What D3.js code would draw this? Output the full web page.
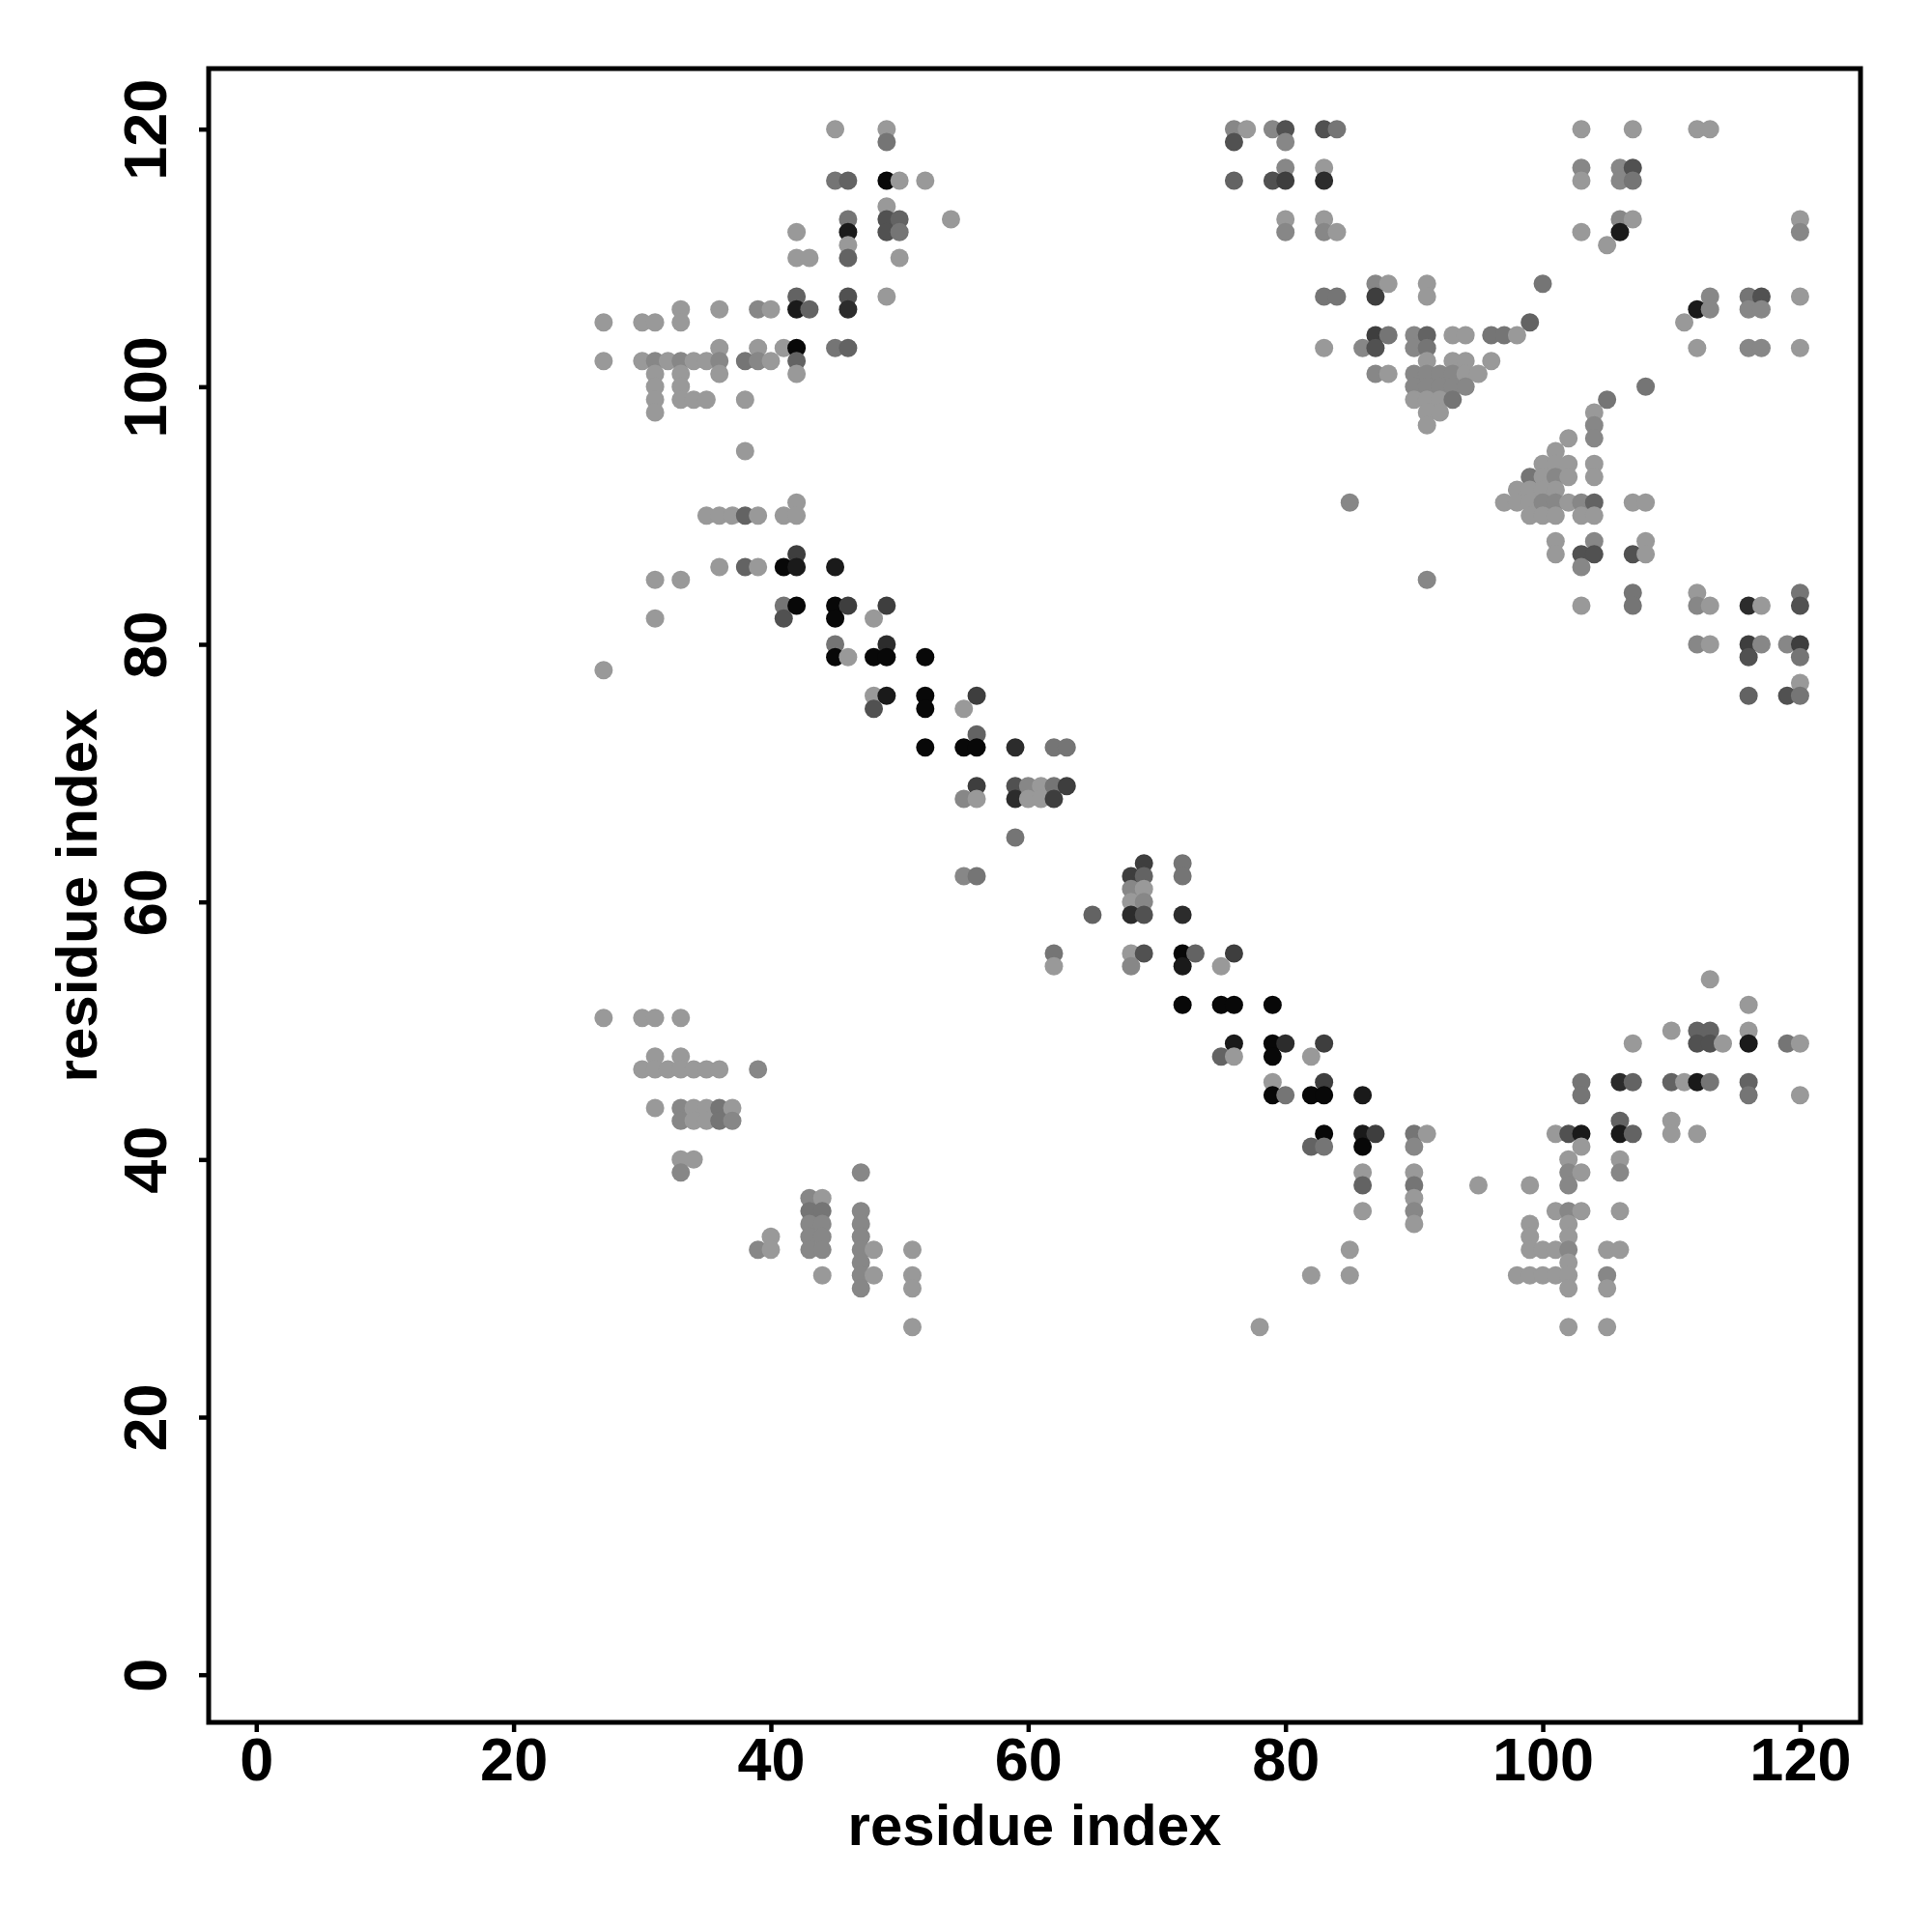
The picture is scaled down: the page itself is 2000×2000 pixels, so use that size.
<!DOCTYPE html>
<html>
<head>
<meta charset="utf-8">
<script src="https://cdn.jsdelivr.net/npm/d3@7"></script>
<style>
  body { margin: 0; background: #fff; }
  text { font-family: "Liberation Sans", Arial, Helvetica, sans-serif; font-weight: bold; }
</style>
</head>
<body>
<script>
// contacts as [residue i, residue j, shade level 1 (light) .. 9 (black)]
var blockTopLeft = [
  [45,120,1],[49,120,1],[49,119,3],
  [45,116,3],[46,116,4],[49,116,9],[50,116,1],[52,116,1],
  [49,114,1],
  [46,113,3],[49,113,5],[50,113,4],[54,113,1],
  [42,112,1],[46,112,8],[49,112,5],[50,112,3],
  [46,111,1],
  [42,110,1],[43,110,1],[46,110,4],[50,110,1],
  [42,107,4],[46,107,5],[49,107,1],
  [42,106,8],[43,106,4],[46,106,7],
  [33,106,1],[36,106,1],[39,106,2],[40,106,1],
  [27,105,1],[30,105,1],[31,105,1],[33,105,1],
  [36,103,1],[39,103,1],[41,103,1],[42,103,9],[45,103,3],[46,103,4],
  [27,102,1],[30,102,1],[31,102,2],[32,102,1],[33,102,2],[34,102,1],[35,102,1],
  [36,102,2],[38,102,3],[39,102,2],[40,102,1],[42,102,4],
  [31,101,1],[33,101,1],[36,101,1],[42,101,1],
  [31,100,1],[33,100,1],
  [31,99,1],[33,99,1],[34,99,1],[35,99,1],[38,99,1],
  [31,98,1],
  [38,95,1],
  [42,91,1],
  [35,90,1],[36,90,1],[37,90,1],[38,90,4],[39,90,1],[41,90,1],[42,90,1]
];

var blockMidLeft = [
  [42,87,6],
  [36,86,1],[38,86,4],[39,86,1],[41,86,9],[42,86,8],[45,86,8],
  [31,85,1],[33,85,1],
  [41,83,3],[42,83,9],[45,83,9],[46,83,6],[49,83,6],
  [31,82,1],[41,82,5],[45,82,9],[48,82,1],
  [45,80,3],[49,80,7],
  [45,79,9],[46,79,1],[48,79,9],[49,79,9],[52,79,9],
  [27,78,1],
  [48,76,1],[49,76,8],[52,76,9],[56,76,6],
  [48,75,5],[52,75,9],[55,75,1],
  [56,73,4],
  [52,72,9],[55,72,9],[56,72,9],
  [56,69,6],
  [55,68,2],[56,68,1],
  [55,62,2],[56,62,3]
];

var blockCentre = [
  [59,72,7],[62,72,3],[63,72,3],
  [59,69,5],[60,69,2],[61,69,1],[62,69,3],[63,69,6],
  [59,68,7],[60,68,1],[61,68,1],[62,68,6],
  [59,65,3],
  [69,63,6],[72,63,3],
  [68,62,6],[69,62,4],[72,62,3],
  [68,61,2],[69,61,1],
  [68,60,1],[69,60,2],
  [65,59,4],[68,59,7],[69,59,5],[72,59,7],
  [62,56,3],[68,56,1],[69,56,5],[72,56,9],[73,56,4],[76,56,6],
  [62,55,1],[68,55,2],[72,55,8],[75,55,1],
  [72,52,9],[75,52,9],[76,52,9],[79,52,9],
  [76,49,8],[79,49,9],[80,49,7],[83,49,6],
  [75,48,4],[76,48,1],[79,48,9],[82,48,1],
  [79,46,1],[83,46,6],
  [79,45,9],[80,45,3],[82,45,9],[83,45,9],[86,45,8],
  [83,42,9],[86,42,8],[87,42,6],
  [82,41,4],[83,41,3],[86,41,9],
  [86,39,1],[86,38,4],[86,36,1],
  [85,33,1],[82,31,1],[85,31,1],[78,27,1]
];

var blockBottomLeft = [
  [27,51,1],[30,51,1],[31,51,1],[33,51,1],
  [31,48,1],[33,48,1],
  [30,47,1],[31,47,1],[32,47,1],[33,47,1],[34,47,1],[35,47,1],[36,47,1],[39,47,2],
  [31,44,1],[33,44,2],[34,44,1],[35,44,1],[36,44,3],[37,44,1],
  [33,43,2],[34,43,1],[35,43,1],[36,43,3],[37,43,2],
  [33,40,1],[34,40,1],[33,39,2],
  [47,39,2],
  [43,37,2],[44,37,1],
  [43,36,3],[44,36,3],[47,36,2],
  [43,35,2],[44,35,2],[47,35,2],
  [40,34,1],[43,34,2],[44,34,2],[47,34,2],
  [39,33,2],[40,33,1],[43,33,2],[44,33,2],[47,33,2],[48,33,1],[51,33,1],
  [47,32,2],
  [44,31,1],[47,31,2],[48,31,1],[51,31,1],
  [47,30,2],[51,30,1],
  [51,27,1]
];

var blockBottomRight = [
  [113,54,1],
  [116,52,1],
  [110,50,1],[112,50,4],[113,50,4],[116,50,1],
  [107,49,1],[112,49,5],[113,49,5],[114,49,1],[116,49,8],[119,49,3],[120,49,1],
  [103,46,3],[106,46,7],[107,46,4],[110,46,4],[111,46,1],[112,46,8],[113,46,3],[116,46,4],
  [103,45,3],[116,45,3],[120,45,1],
  [106,43,4],[110,43,1],
  [90,42,3],[91,42,1],[101,42,1],[102,42,5],[103,42,8],[106,42,8],[107,42,4],[110,42,1],[112,42,1],
  [90,41,2],[103,41,1],
  [102,40,1],[106,40,1],
  [90,39,1],[102,39,2],[103,39,1],[106,39,2],
  [90,38,3],[95,38,1],[99,38,1],[102,38,2],
  [90,37,1],
  [90,36,2],[101,36,1],[102,36,2],[103,36,1],[106,36,1],
  [90,35,1],[99,35,1],[102,35,1],
  [99,34,1],[102,34,1],
  [99,33,1],[100,33,1],[101,33,1],[102,33,2],[105,33,1],[106,33,1],
  [102,32,1],
  [98,31,1],[99,31,1],[100,31,1],[101,31,1],[102,31,1],[105,31,2],
  [102,30,1],[105,30,1],
  [102,27,1],[105,27,1]
];

var blockTopMid = [
  [76,120,2],[77,120,1],[79,120,2],[80,120,5],[83,120,5],[84,120,3],
  [76,119,5],[80,119,2],
  [80,117,2],[83,117,1],
  [76,116,4],[79,116,5],[80,116,6],[83,116,7],
  [80,113,1],[83,113,1],
  [80,112,2],[83,112,2],[84,112,1],
  [87,108,2],[88,108,1],
  [83,107,3],[84,107,3],[87,107,6],
  [87,104,6],[88,104,3],
  [83,103,1],[86,103,2],[87,103,5],
  [87,101,2],[88,101,1],
  [85,91,2],[91,85,2]
];

var blockTopRight = [
  [103,120,1],[107,120,1],[112,120,1],[113,120,1],
  [103,117,2],[106,117,2],[107,117,5],
  [103,116,1],[106,116,2],[107,116,3],
  [106,113,2],[107,113,1],[120,113,1],
  [103,112,1],[106,112,8],[120,112,2],
  [105,111,1],
  [91,108,1],[100,108,3],
  [91,107,1],[113,107,2],[116,107,3],[117,107,5],[120,107,1],
  [112,106,8],[113,106,2],[116,106,2],[117,106,2],
  [99,105,4],[111,105,1],
  [90,104,2],[91,104,4],[93,104,1],[94,104,1],[96,104,3],[97,104,3],[98,104,1],
  [90,103,2],[91,103,3],[112,103,1],[116,103,2],[117,103,2],[120,103,1],
  [91,102,1],[93,102,1],[94,102,1],[96,102,1],
  [90,101,2],[91,101,2],[92,101,2],[93,101,2],[94,101,1],[95,101,1],
  [90,100,2],[91,100,2],[92,100,2],[93,100,2],[94,100,2],[108,100,3],
  [90,99,1],[91,99,1],[92,99,1],[93,99,3],[105,99,3],
  [91,98,1],[92,98,1],[104,98,1],
  [91,97,1],[104,97,2],
  [102,96,1],[104,96,2],
  [101,95,1],
  [100,94,1],[101,94,1],[102,94,1],[104,94,1],
  [99,93,3],[100,93,1],[101,93,2],[102,93,1],[104,93,1],
  [98,92,1],[99,92,1],[100,92,1],[101,92,1],
  [97,91,1],[98,91,1],[99,91,1],[100,91,2],[101,91,2],[102,91,1],[103,91,2],[104,91,4],[107,91,1],[108,91,1],
  [99,90,1],[100,90,1],[101,90,1],[103,90,1],[104,90,1],
  [101,88,1],[104,88,2],[108,88,1],
  [101,87,1],[103,87,5],[104,87,5],[107,87,5],[108,87,1],
  [103,86,2],
  [107,84,3],[112,84,1],[120,84,3],
  [103,83,1],[107,83,3],[112,83,2],[113,83,1],[116,83,7],[117,83,1],[120,83,5],
  [112,80,2],[113,80,1],[116,80,6],[117,80,2],[119,80,2],[120,80,6],
  [116,79,5],[120,79,3],
  [120,77,1],
  [116,76,4],[119,76,5],[120,76,3]
];

var tickValues = [0, 20, 40, 60, 80, 100, 120];
var axisTitle = "residue index";

var contacts = [].concat(blockTopLeft, blockMidLeft, blockCentre, blockBottomLeft,
                         blockBottomRight, blockTopMid, blockTopRight);

var svgWidth = 2000, svgHeight = 2000;
var box = { left: 216, right: 1926, top: 71, bottom: 1783 };

var svg = d3.select("body").append("svg")
  .attr("width", svgWidth)
  .attr("height", svgHeight);

svg.append("rect").attr("width", svgWidth).attr("height", svgHeight).attr("fill", "#fff");

var x = d3.scaleLinear().domain([-3.7, 124.7]).range([box.left, box.right]);
var y = d3.scaleLinear().domain([-3.7, 124.7]).range([box.bottom, box.top]);
var shade = d3.scaleLinear().domain([1, 9]).range(["#999999", "#080808"]);

// points
svg.append("g").selectAll("circle")
  .data(contacts)
  .enter()
  .append("circle")
  .attr("cx", function(d) { return x(d[0]); })
  .attr("cy", function(d) { return y(d[1]); })
  .attr("r", 9.5)
  .attr("fill", function(d) { return shade(d[2]); });

// x axis
var xAxis = svg.append("g")
  .attr("transform", "translate(0," + box.bottom + ")")
  .call(d3.axisBottom(x).tickValues(tickValues).tickSize(10).tickPadding(5).tickSizeOuter(0));
xAxis.select(".domain").remove();
xAxis.selectAll("line").attr("stroke", "#000").attr("stroke-width", 4.5);
xAxis.selectAll("text").attr("font-size", 63).attr("fill", "#000");

// y axis, labels parallel to the axis
var yAxis = svg.append("g")
  .attr("transform", "translate(" + box.left + ",0)")
  .call(d3.axisLeft(y).tickValues(tickValues).tickSize(10).tickSizeOuter(0));
yAxis.select(".domain").remove();
yAxis.selectAll("line").attr("stroke", "#000").attr("stroke-width", 4.5);
yAxis.selectAll("text")
  .attr("x", null)
  .attr("dy", null)
  .attr("transform", "translate(-44,0) rotate(-90)")
  .attr("text-anchor", "middle")
  .attr("font-size", 63)
  .attr("fill", "#000");

// frame
svg.append("rect")
  .attr("x", box.left)
  .attr("y", box.top)
  .attr("width", box.right - box.left)
  .attr("height", box.bottom - box.top)
  .attr("fill", "none")
  .attr("stroke", "#000")
  .attr("stroke-width", 5);

// titles
svg.append("text")
  .attr("x", (box.left + box.right) / 2)
  .attr("y", 1910)
  .attr("text-anchor", "middle")
  .attr("font-size", 60)
  .text(axisTitle);

svg.append("text")
  .attr("transform", "translate(100," + (box.top + box.bottom) / 2 + ") rotate(-90)")
  .attr("text-anchor", "middle")
  .attr("font-size", 60)
  .text(axisTitle);
</script>
</body>
</html>
